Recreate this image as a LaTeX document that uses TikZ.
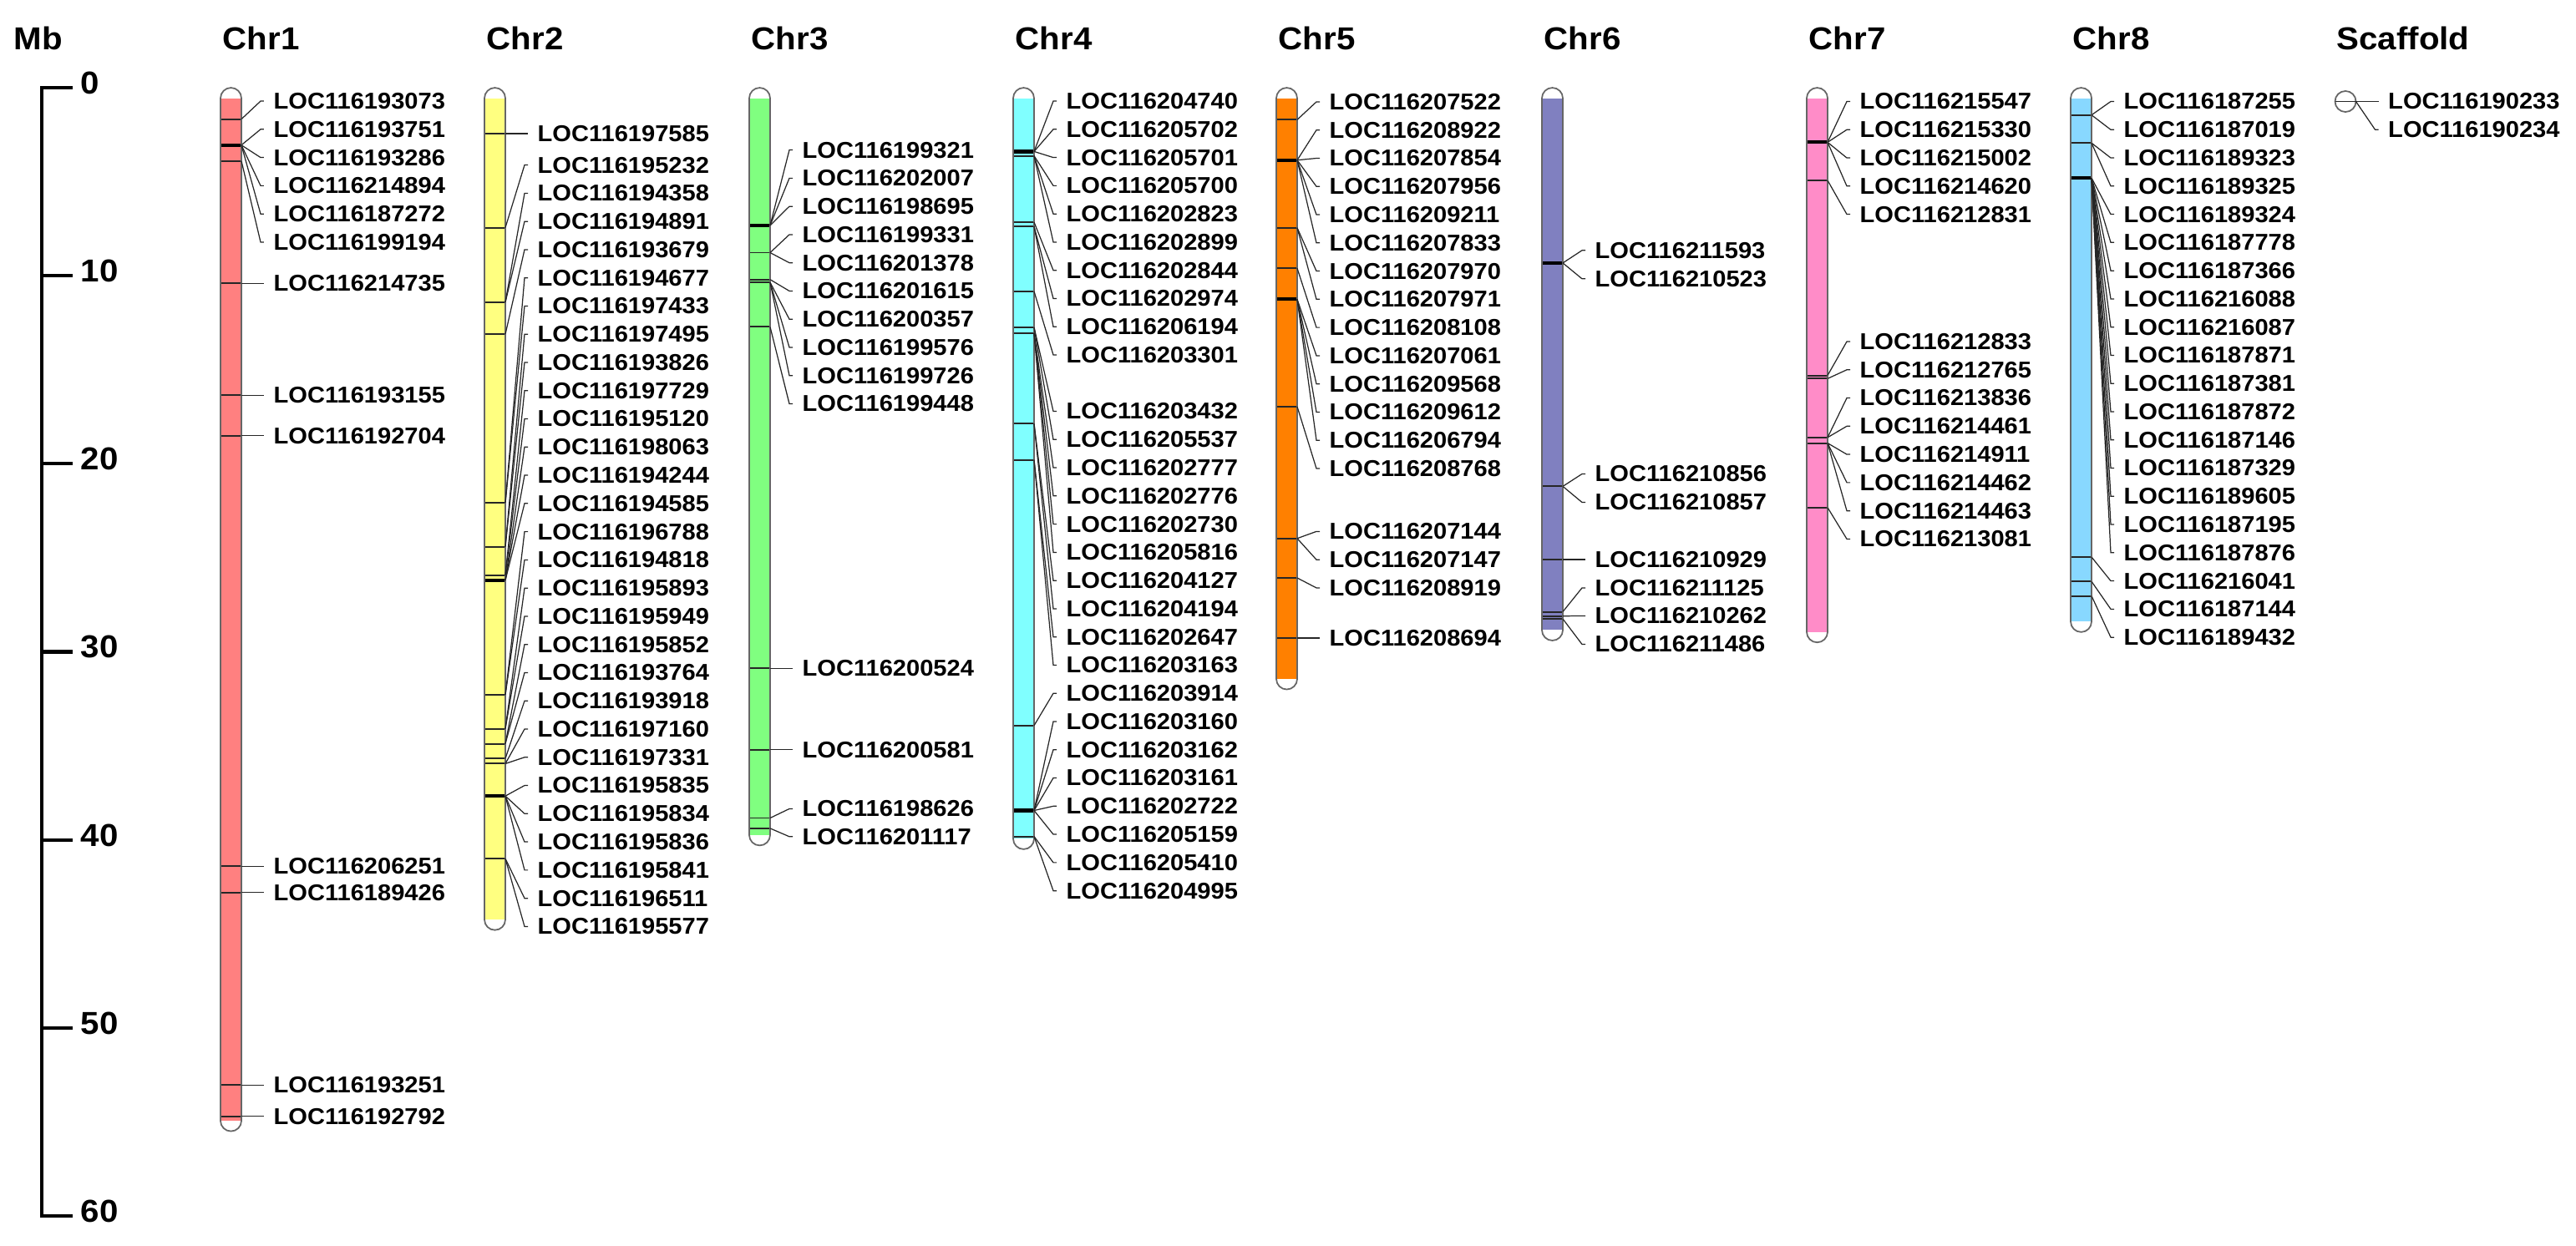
\documentclass[tikz,border=0pt]{standalone}
\usepackage{fontspec}
\setmainfont{Liberation Sans}[FakeStretch=1.06]
\usetikzlibrary{positioning}

\definecolor{chrA}{HTML}{FF8080}
\definecolor{chrB}{HTML}{FFFF80}
\definecolor{chrC}{HTML}{80FF80}
\definecolor{chrD}{HTML}{80FFFF}
\definecolor{chrE}{HTML}{FF8000}
\definecolor{chrF}{HTML}{8080C0}
\definecolor{chrG}{HTML}{FF8CC8}
\definecolor{chrH}{HTML}{88D8FF}

\tikzset{
  band/.style = {line width=0.55pt, black!85},
  thickband/.style = {line width=1.2pt, black},
  conn/.style = {line width=0.35pt, black!85},
  outline/.style = {line width=0.5pt, black!60, rounded corners=0.125cm},
  loc/.style = {anchor=west, inner sep=0pt, font=\fontsize{7.8}{9}\selectfont\bfseries},
  title/.style = {anchor=west, inner sep=0pt, font=\fontsize{10.8}{12}\selectfont\bfseries},
  axis/.style = {line width=1.2pt, black}
}

% #1 x of left edge, #2 colour, #3 length (Mb), #4 thin bands, #5 thick bands
\newcommand{\chrbar}[5]{
  \fill[#2] (#1,0.556) rectangle ({#1+25},{#3-0.556});
  \foreach \m in {#4} \draw[band] (#1,\m) -- ({#1+25},\m);
  \foreach \m in {#5} \draw[thickband] (#1,\m) -- ({#1+25},\m);
  \draw[outline] (#1,0) rectangle ({#1+25},#3);
}
% #1 name, #2 x of left edge, #3 list gene/label pos/marker pos
\newcommand{\locs}[3]{
  \foreach \lab/\pos/\mk [count=\k] in {#3} {
    \coordinate (#1m\k) at ({#2+25},\mk);
    \node[loc] (#1l\k) at ({#2+63},\pos) {LOC116\lab};
    \draw[conn] (#1m\k) -- ([xshift=-0.15cm]#1l\k.west) -- ([xshift=-0.11cm]#1l\k.west);
  }
}

\begin{document}
\begin{tikzpicture}[x=0.01cm, y=-0.225cm]
\useasboundingbox (0,-4.667) rectangle (3084,61.6);

% scale bar in Mb
\node[title] (mb) at (16,-2.62) {Mb};
\draw[axis] (87,0) -- (50,0) -- (50,60) -- (87,60);
\foreach \t in {10,20,...,50} \draw[axis] (50,\t) -- (87,\t);
\foreach \t in {0,10,...,60} \node[title] (tick\t) at (96,\t-0.25) {\t};

% Chr1
\node[title] (chr1) at (266,-2.62) {Chr1};
\chrbar{264}{chrA}{55.5}{1.67,3.89,10.4,16.35,18.5,41.4,42.8,53.04,54.71}{3.05}
\locs{a}{264}{193073/0.71/1.67, 193751/2.21/3.05, 193286/3.71/3.05, 214894/5.21/3.05,
  187272/6.71/3.05, 199194/8.21/3.89, 214735/10.4/10.4, 193155/16.35/16.35,
  192704/18.5/18.5, 206251/41.4/41.4, 189426/42.8/42.8, 193251/53.04/53.04,
  192792/54.71/54.71}

% Chr2
\node[title] (chr2) at (582,-2.62) {Chr2};
\chrbar{580}{chrB}{44.8}{2.44,7.44,11.41,13.11,22.08,24.41,25.92,32.29,34.09,34.89,35.68,35.95,41.0}{26.2,37.67}
\locs{b}{580}{197585/2.44/2.44, 195232/4.11/7.44, 194358/5.61/11.41, 194891/7.11/11.41,
  193679/8.61/13.11, 194677/10.11/22.08, 197433/11.61/22.08, 197495/13.11/24.41,
  193826/14.61/24.41, 197729/16.11/25.92, 195120/17.61/25.92, 198063/19.11/26.2,
  194244/20.61/26.2, 194585/22.11/26.2, 196788/23.61/32.29, 194818/25.11/32.29,
  195893/26.61/34.09, 195949/28.11/34.09, 195852/29.61/34.89, 193764/31.11/34.89,
  193918/32.61/35.68, 197160/34.11/35.95, 197331/35.61/35.95, 195835/37.11/37.67,
  195834/38.61/37.67, 195836/40.11/37.67, 195841/41.61/37.67, 196511/43.11/41.0,
  195577/44.61/41.0}

% Chr3
\node[title] (chr3) at (899,-2.62) {Chr3};
\chrbar{897}{chrC}{40.3}{8.77,10.2,10.35,12.72,30.88,35.2,38.84,39.39}{7.32}
\locs{c}{897}{199321/3.31/7.32, 202007/4.81/7.32, 198695/6.31/7.32, 199331/7.81/8.77,
  201378/9.31/8.77, 201615/10.81/10.2, 200357/12.31/10.35, 199576/13.81/10.35,
  199726/15.31/10.35, 199448/16.81/12.72, 200524/30.88/30.88, 200581/35.2/35.2,
  198626/38.35/38.84, 201117/39.83/39.39}

% Chr4
\node[title] (chr4) at (1215,-2.62) {Chr4};
\chrbar{1213}{chrD}{40.5}{3.62,7.15,7.38,10.83,12.74,13.05,17.87,19.79,33.92,39.82}{3.39,38.44}
\locs{d}{1213}{204740/0.71/3.39, 205702/2.21/3.39, 205701/3.71/3.39, 205700/5.21/3.62,
  202823/6.71/3.62, 202899/8.21/3.62, 202844/9.71/7.15, 202974/11.21/7.38,
  206194/12.71/7.38, 203301/14.21/10.83, 203432/17.21/12.74, 205537/18.71/12.74,
  202777/20.21/13.05, 202776/21.71/13.05, 202730/23.21/13.05, 205816/24.71/13.05,
  204127/26.21/17.87, 204194/27.71/17.87, 202647/29.21/19.79, 203163/30.71/19.79,
  203914/32.21/33.92, 203160/33.71/38.44, 203162/35.21/38.44, 203161/36.71/38.44,
  202722/38.21/38.44, 205159/39.71/38.44, 205410/41.21/39.82, 204995/42.71/39.82}

% Chr5
\node[title] (chr5) at (1530,-2.62) {Chr5};
\chrbar{1528}{chrE}{32.0}{1.7,7.45,9.6,16.96,23.97,26.07,29.27}{3.85,11.25}
\locs{e}{1528}{207522/0.75/1.7, 208922/2.25/3.85, 207854/3.75/3.85, 207956/5.25/3.85,
  209211/6.75/3.85, 207833/8.25/3.85, 207970/9.75/7.45, 207971/11.25/7.45,
  208108/12.75/9.6, 207061/14.25/11.25, 209568/15.75/11.25, 209612/17.25/11.25,
  206794/18.75/11.25, 208768/20.25/16.96, 207144/23.6/23.97, 207147/25.1/23.97,
  208919/26.6/26.07, 208694/29.27/29.27}

% Chr6
\node[title] (chr6) at (1848,-2.62) {Chr6};
\chrbar{1846}{chrF}{29.4}{21.2,25.09,27.87,28.1,28.25}{9.32}
\locs{f}{1846}{211593/8.65/9.32, 210523/10.16/9.32, 210856/20.54/21.2, 210857/22.05/21.2,
  210929/25.09/25.09, 211125/26.6/27.87, 210262/28.09/28.1, 211486/29.6/28.25}

% Chr7
\node[title] (chr7) at (2165,-2.62) {Chr7};
\chrbar{2163}{chrG}{29.5}{4.93,15.3,15.47,18.6,18.9,22.33}{2.9}
\locs{g}{2163}{215547/0.73/2.9, 215330/2.23/2.9, 215002/3.73/2.9, 214620/5.23/2.9,
  212831/6.73/4.93, 212833/13.5/15.3, 212765/15.0/15.47, 213836/16.5/18.6,
  214461/18.0/18.6, 214911/19.5/18.9, 214462/21.0/18.9, 214463/22.5/18.9,
  213081/24.0/22.33}

% Chr8
\node[title] (chr8) at (2481,-2.62) {Chr8};
\chrbar{2479}{chrH}{28.95}{1.45,2.94,24.96,26.26,27.03}{4.8}
\locs{h}{2479}{187255/0.73/1.45, 187019/2.23/1.45, 189323/3.73/2.94, 189325/5.23/2.94,
  189324/6.73/4.8, 187778/8.23/4.8, 187366/9.73/4.8, 216088/11.23/4.8,
  216087/12.73/4.8, 187871/14.23/4.8, 187381/15.73/4.8, 187872/17.23/4.8,
  187146/18.73/4.8, 187329/20.23/4.8, 189605/21.73/4.8, 187195/23.23/4.8,
  187876/24.73/4.8, 216041/26.23/24.96, 187144/27.73/26.26, 189432/29.23/27.03}

% Scaffold
\node[title] (scaf) at (2797,-2.62) {Scaffold};
\draw[outline] (2808,0.73) circle[radius=0.125cm];
\draw[band] (2795.5,0.73) -- (2820.5,0.73);
\locs{s}{2795.5}{190233/0.73/0.73, 190234/2.23/0.73}
\end{tikzpicture}
\end{document}
